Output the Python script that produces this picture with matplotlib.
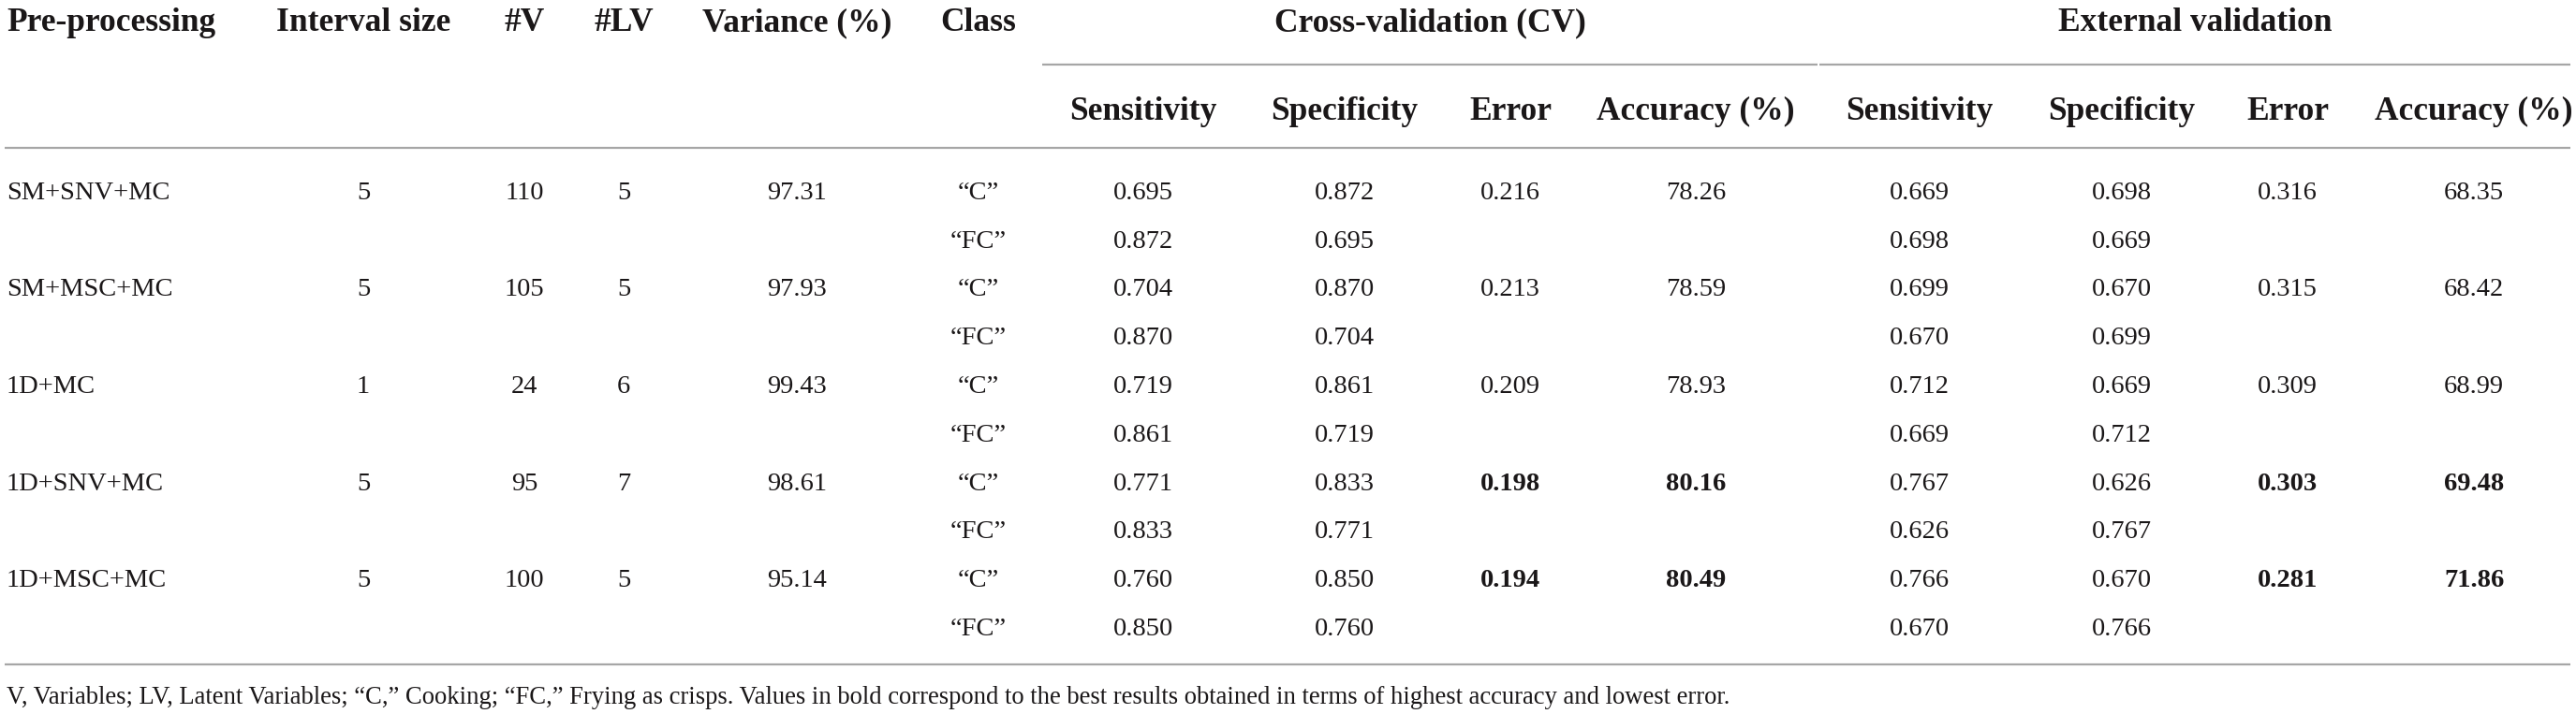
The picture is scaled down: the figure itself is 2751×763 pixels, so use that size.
import matplotlib
matplotlib.use("Agg")
import matplotlib.pyplot as plt

# ---------------- data ----------------
preproc = ["SM+SNV+MC", "SM+MSC+MC", "1D+MC", "1D+SNV+MC", "1D+MSC+MC"]
interval = [5, 5, 1, 5, 5]
n_vars = [110, 105, 24, 95, 100]
n_lv = [5, 5, 6, 7, 5]
variance = ["97.31", "97.93", "99.43", "98.61", "95.14"]
classes = ["\u201cC\u201d", "\u201cFC\u201d"]
cv_sens = [["0.695", "0.872"], ["0.704", "0.870"], ["0.719", "0.861"], ["0.771", "0.833"], ["0.760", "0.850"]]
cv_spec = [["0.872", "0.695"], ["0.870", "0.704"], ["0.861", "0.719"], ["0.833", "0.771"], ["0.850", "0.760"]]
cv_err = ["0.216", "0.213", "0.209", "0.198", "0.194"]
cv_acc = ["78.26", "78.59", "78.93", "80.16", "80.49"]
ev_sens = [["0.669", "0.698"], ["0.699", "0.670"], ["0.712", "0.669"], ["0.767", "0.626"], ["0.766", "0.670"]]
ev_spec = [["0.698", "0.669"], ["0.670", "0.699"], ["0.669", "0.712"], ["0.626", "0.767"], ["0.670", "0.766"]]
ev_err = ["0.316", "0.315", "0.309", "0.303", "0.281"]
ev_acc = ["68.35", "68.42", "68.99", "69.48", "71.86"]
bold_rows = [3, 4]

top_headers = ["Pre-processing", "Interval size", "#V", "#LV", "Variance (%)", "Class"]
group_headers = ["Cross-validation (CV)", "External validation"]
sub_headers = ["Sensitivity", "Specificity", "Error", "Accuracy (%)"] * 2
footnote = ("V, Variables; LV, Latent Variables; \u201cC,\u201d Cooking; \u201cFC,\u201d Frying as crisps. "
            "Values in bold correspond to the best results obtained in terms of highest accuracy and lowest error.")

# ---------------- layout ----------------
W, H = 2751, 763
fig = plt.figure(figsize=(W / 100, H / 100), dpi=100)
ax = fig.add_axes([0, 0, 1, 1])
ax.set_xlim(0, W)
ax.set_ylim(H, 0)
ax.axis("off")

FONT = "Liberation Serif"
TXT = "#1a1718"
LINE = "#a6a6a6"
HS = 25.5   # header font size
DS = 20.5   # body font size
FS = 19.2   # footnote font size

left_x = 7
col_x = [388, 560, 666, 851, 1045]            # interval, #V, #LV, variance, class
sub_x = [1221, 1436, 1613, 1811, 2050, 2266, 2443, 2642]
grp_span = [(1113, 1941), (1943, 2745)]

y_head = 33
y_sub = 127.5
y_row0 = 213
dy = 51.75
y_foot = 752

def t(x, y, s, ha="center", bold=False, size=DS):
    ax.text(x, y, s, ha=ha, va="baseline", fontsize=size, family=FONT,
            fontweight="bold" if bold else "normal", color=TXT)

# header row
t(left_x, y_head, top_headers[0], ha="left", bold=True, size=HS)
for x, h in zip(col_x, top_headers[1:]):
    t(x, y_head, h, bold=True, size=HS)
for (x0, x1), g in zip(grp_span, group_headers):
    t((x0 + x1) / 2, y_head, g, bold=True, size=HS)
    ax.plot([x0, x1], [69, 69], color=LINE, lw=1.6, solid_capstyle="butt")
for x, h in zip(sub_x, sub_headers):
    t(x, y_sub, h, bold=True, size=HS)

# rules
ax.plot([5, 2745], [158, 158], color=LINE, lw=1.6, solid_capstyle="butt")
ax.plot([5, 2745], [710, 710], color=LINE, lw=1.6, solid_capstyle="butt")

# body
for i in range(len(preproc)):
    y0 = y_row0 + 2 * i * dy
    y1 = y0 + dy
    b = i in bold_rows
    t(left_x, y0, preproc[i], ha="left")
    t(col_x[0], y0, str(interval[i]))
    t(col_x[1], y0, str(n_vars[i]))
    t(col_x[2], y0, str(n_lv[i]))
    t(col_x[3], y0, variance[i])
    for k, yy in enumerate((y0, y1)):
        t(col_x[4], yy, classes[k])
        t(sub_x[0], yy, cv_sens[i][k])
        t(sub_x[1], yy, cv_spec[i][k])
        t(sub_x[4], yy, ev_sens[i][k])
        t(sub_x[5], yy, ev_spec[i][k])
    t(sub_x[2], y0, cv_err[i], bold=b)
    t(sub_x[3], y0, cv_acc[i], bold=b)
    t(sub_x[6], y0, ev_err[i], bold=b)
    t(sub_x[7], y0, ev_acc[i], bold=b)

t(left_x, y_foot, footnote, ha="left", size=FS)

fig.savefig("out.png", dpi=100, facecolor="white")
